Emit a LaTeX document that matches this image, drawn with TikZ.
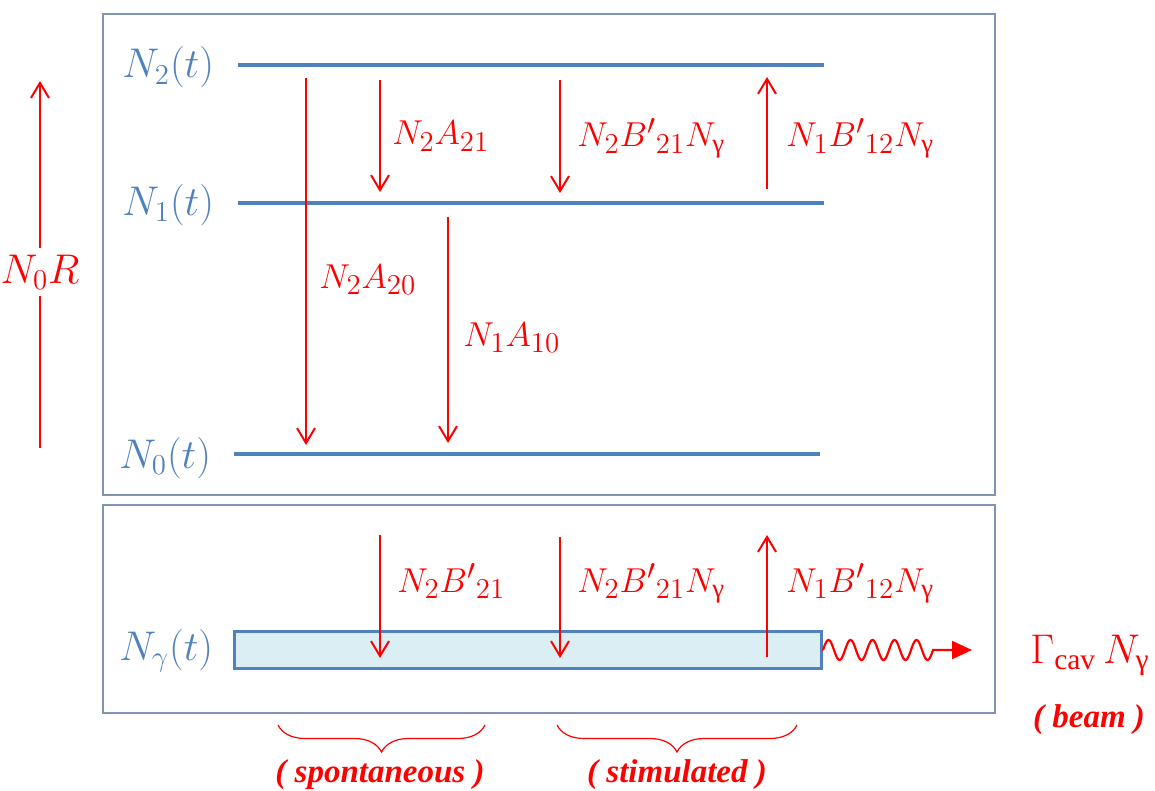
\documentclass[tikz,border=0pt]{standalone}
\usepackage{amsmath}
\usepackage{fontspec}
\newfontfamily\tms{Liberation Serif}
\usetikzlibrary{arrows.meta,decorations.pathreplacing}
\definecolor{lvl}{HTML}{4F81BD}
\definecolor{frm}{HTML}{7F93B2}
\definecolor{rd}{HTML}{FF0000}
\definecolor{cavfill}{HTML}{DBEEF4}
\newcommand{\ug}{\text{\tms γ}}
\begin{document}
\begin{tikzpicture}[x=0.5pt,y=-0.5pt,
  lvlline/.style={draw=lvl, line width=2.3pt},
  frame/.style={draw=frm, line width=0.75pt},
  redline/.style={draw=rd, line width=1pt},
  rate/.style={redline, -{Straight Barb[length=7.5pt,width=9pt,line width=1pt]}},
  ratelbl/.style={text=rd, font=\fontsize{19}{23}\selectfont, inner sep=0pt, anchor=base west},
  lvllbl/.style={text=lvl, font=\fontsize{19.7}{24}\selectfont, inner sep=0pt, anchor=base west},
  word/.style={text=rd, font=\tms\bfseries\itshape\fontsize{16.5}{19}\selectfont, inner sep=0pt},
  bracestyle/.style={draw=rd, line width=0.6pt, decorate, decoration={brace, amplitude=13.5pt}}]
\useasboundingbox (0,0) rectangle (1155,791);
% frames
\draw[frame] (103,14) rectangle (995,495);
\draw[frame] (103,505) rectangle (995,713);
% levels
\coordinate (l2a) at (238,65); \coordinate (l2b) at (824,65);
\coordinate (l1a) at (238,203); \coordinate (l1b) at (824,203);
\coordinate (l0a) at (234,454); \coordinate (l0b) at (820,454);
\draw[lvlline] (l2a) -- (l2b);
\draw[lvlline] (l1a) -- (l1b);
\draw[lvlline] (l0a) -- (l0b);
\node[lvllbl] (t2) at (122,78) {$N_2(t)$};
\node[lvllbl] (t1) at (122,215) {$N_1(t)$};
\node[lvllbl] (t0) at (119,468) {$N_0(t)$};
\node[lvllbl] (tg) at (119,660) {$N_\gamma(t)$};
% cavity
\node[draw=lvl, fill=cavfill, line width=1.5pt, minimum width=293.5pt, minimum height=18.5pt, inner sep=0pt] (cavity) at (527.5,649.5) {};
% top arrows
\coordinate (a20s) at (306,78);  \coordinate (a20e) at (306,445);
\coordinate (a21s) at (380,80);  \coordinate (a21e) at (380,192);
\coordinate (a10s) at (448,217); \coordinate (a10e) at (448,443);
\coordinate (b21s) at (560,80);  \coordinate (b21e) at (560,193);
\coordinate (b12s) at (767,189); \coordinate (b12e) at (767,77);
\draw[rate] (a20s) -- (a20e);
\draw[rate] (a21s) -- (a21e);
\draw[rate] (a10s) -- (a10e);
\draw[rate] (b21s) -- (b21e);
\draw[rate] (b12s) -- (b12e);
\node[ratelbl] (la21) at (392,145) {$N_2A_{21}$};
\node[ratelbl] (la20) at (319,288) {$N_2A_{20}$};
\node[ratelbl] (la10) at (463,346) {$N_1A_{10}$};
\node[ratelbl] (lb21) at (577,147) {$N_2{B'}_{21}N_{\ug}$};
\node[ratelbl] (lb12) at (786,147) {$N_1{B'}_{12}N_{\ug}$};
% pump
\node[text=rd, font=\fontsize{22}{26}\selectfont, inner xsep=0pt, inner ysep=3pt] (n0r) at (40,272) {$N_0R$};
\coordinate (prb) at (40,448); \coordinate (prt) at (40,81);
\draw[redline] (prb) -- (n0r.south);
\draw[rate] (n0r.north) -- (prt);
% bottom arrows
\coordinate (c1s) at (380,535); \coordinate (c1e) at (380,658);
\coordinate (c2s) at (560,537); \coordinate (c2e) at (560,658);
\coordinate (c3s) at (767,657); \coordinate (c3e) at (767,535);
\draw[rate] (c1s) -- (c1e);
\draw[rate] (c2s) -- (c2e);
\draw[rate] (c3s) -- (c3e);
\node[ratelbl] (lc1) at (397,592) {$N_2{B'}_{21}$};
\node[ratelbl] (lc2) at (577,592) {$N_2{B'}_{21}N_{\ug}$};
\node[ratelbl] (lc3) at (786,592) {$N_1{B'}_{12}N_{\ug}$};
% wave
\coordinate (wtip) at (972,650);
\draw[redline, line width=1.1pt, -{Triangle[length=10pt,width=9pt]}] (cavity.east) -- (823,650)
  plot[domain=0:5, samples=150, smooth] ({823+22*\x},{650-10*sin(360*\x)}) -- (wtip);
\node[ratelbl, font=\fontsize{21}{25}\selectfont] (gam) at (1030,663) {$\Gamma_{\text{\tms cav}}\,N_{\ug}$};
\node[word] (beam) at (1089,720) {( beam )};
% braces
\coordinate (br1r) at (485,725); \coordinate (br1l) at (278,725);
\coordinate (br2r) at (797,725); \coordinate (br2l) at (557,725);
\draw[bracestyle] (br1r) -- (br1l);
\draw[bracestyle] (br2r) -- (br2l);
\node[word] (spont) at (380,775) {( spontaneous )};
\node[word] (stim) at (677,775) {( stimulated )};
\end{tikzpicture}
\end{document}
